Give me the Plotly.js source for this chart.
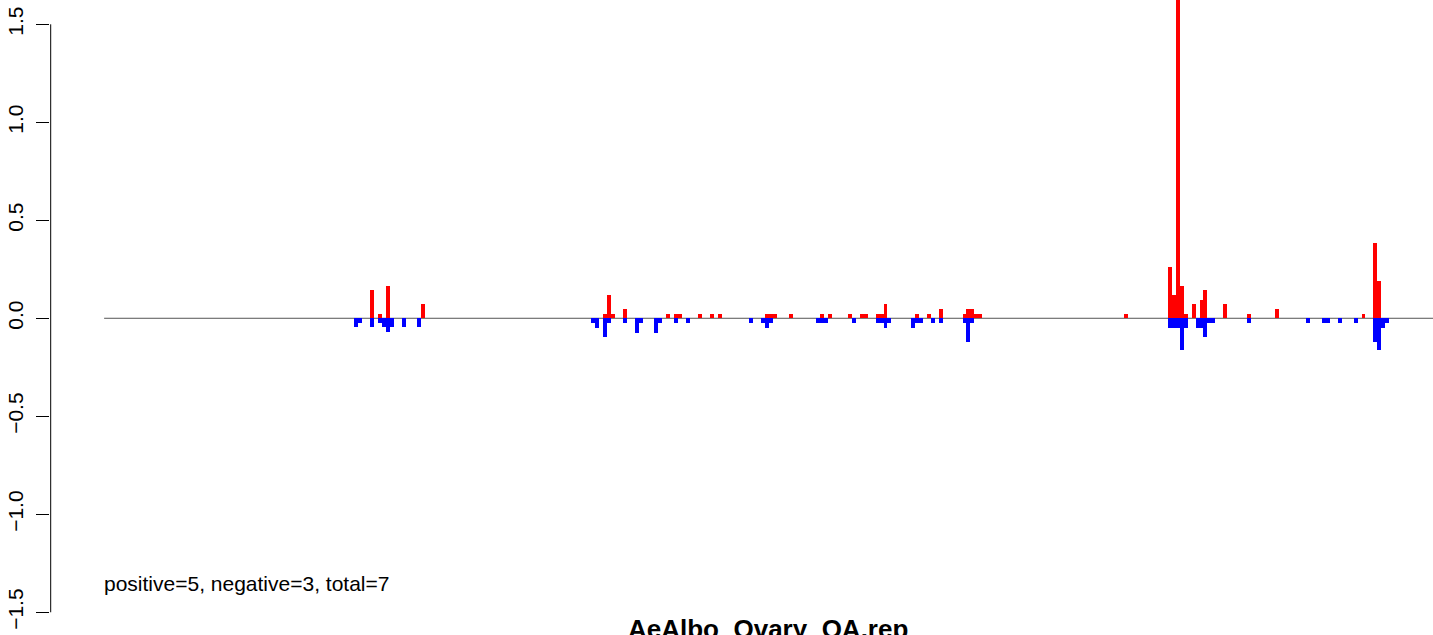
<!DOCTYPE html>
<html>
<head>
<meta charset="utf-8">
<script src="https://cdn.plot.ly/plotly-3.0.1.min.js"></script>
<style>html,body{margin:0;padding:0;background:#fff;}#chart{width:1433px;height:635px;}</style>
</head>
<body>
<div id="chart"></div>
<script>
// bin indices and values
var posBins = [81, 83, 85, 94,
  140, 141, 142, 145, 156, 158, 159, 164, 167, 169,
  181, 182, 183, 187, 195, 197, 202, 205, 206, 209, 210, 211, 219, 222, 225, 231, 232, 233, 234, 235,
  272, 283, 284, 285, 286, 287, 289, 291, 292, 297,
  303, 310, 332, 335, 336];
var posVals = [0.144, 0.022, 0.164, 0.074,
  0.022, 0.118, 0.022, 0.047, 0.022, 0.022, 0.022, 0.022, 0.022, 0.022,
  0.022, 0.022, 0.022, 0.022, 0.022, 0.022, 0.022, 0.022, 0.022, 0.022, 0.022, 0.072, 0.022, 0.022, 0.047, 0.022, 0.047, 0.047, 0.022, 0.022,
  0.022, 0.262, 0.120, 2.0, 0.165, 0.022, 0.073, 0.093, 0.144, 0.073,
  0.022, 0.047, 0.022, 0.384, 0.189];
var negBins = [77, 78, 81, 83, 84, 85, 86, 89, 93,
  137, 138, 140, 141, 145, 148, 149, 153, 154, 158, 161, 177,
  180, 181, 182, 194, 195, 196, 203, 209, 210, 211, 212, 218, 219, 220, 223, 225, 231, 232, 233,
  283, 284, 285, 286, 287, 290, 291, 292, 293, 294,
  303, 318, 322, 323, 326, 330, 335, 336, 337, 338];
var negVals = [-0.046, -0.022, -0.046, -0.022, -0.046, -0.071, -0.046, -0.046, -0.046,
  -0.022, -0.048, -0.093, -0.022, -0.022, -0.073, -0.022, -0.073, -0.022, -0.022, -0.022, -0.022,
  -0.022, -0.047, -0.022, -0.022, -0.022, -0.022, -0.022, -0.022, -0.022, -0.047, -0.022, -0.047, -0.022, -0.022, -0.022, -0.022, -0.022, -0.119, -0.022,
  -0.047, -0.047, -0.047, -0.164, -0.047, -0.047, -0.047, -0.093, -0.022, -0.022,
  -0.024, -0.022, -0.022, -0.022, -0.022, -0.022, -0.119, -0.164, -0.047, -0.022];
var yTicks = [-1.5, -1.0, -0.5, 0.0, 0.5, 1.0, 1.5];
var yTickLabels = ['\u22121.5', '\u22121.0', '\u22120.5', '0.0', '0.5', '1.0', '1.5'];
var titleText = 'AeAlbo_Ovary_OA.rep';
var summaryText = 'positive=5, negative=3, total=7';
var lineStart = 13.2;

var traces = [
  {type: 'bar', x: posBins, y: posVals, width: 1, marker: {color: '#ff0000', line: {width: 0}}, hoverinfo: 'x+y'},
  {type: 'bar', x: negBins, y: negVals, width: 1, marker: {color: '#0000ff', line: {width: 0}}, hoverinfo: 'x+y'}
];

var layout = {
  width: 1433, height: 635,
  margin: {l: 50, r: 0, t: 0, b: 0},
  paper_bgcolor: '#ffffff', plot_bgcolor: '#ffffff',
  showlegend: false,
  barmode: 'overlay',
  bargap: 0,
  font: {family: 'Liberation Sans, Arial, sans-serif', color: '#000'},
  xaxis: {range: [-0.5, 349.6], visible: false, showgrid: false, zeroline: false, fixedrange: true},
  yaxis: {
    range: [-1.616, 1.624], showgrid: false, zeroline: false, showline: false,
    tickmode: 'array', tickvals: yTicks, ticktext: yTickLabels,
    ticks: 'outside', ticklen: 13, tickwidth: 1, tickcolor: '#000',
    tickangle: -90, tickfont: {size: 21, color: '#000'}, ticklabelstandoff: 5,
    fixedrange: true
  },
  shapes: [
    {type: 'line', xref: 'paper', yref: 'y', x0: 0.0005, x1: 0.0005, y0: -1.5, y1: 1.5, line: {color: '#000', width: 1}},
    {type: 'line', xref: 'x', yref: 'y', x0: lineStart, x1: 400, y0: 0, y1: 0, line: {color: '#555555', width: 1}, layer: 'below'}
  ],
  annotations: [
    {text: summaryText, xref: 'x', yref: 'y', x: lineStart - 0.5, y: -1.355, xanchor: 'left', yanchor: 'middle', showarrow: false, font: {size: 21, color: '#000'}},
    {text: '<b>' + titleText + '</b>', xref: 'paper', yref: 'paper', x: 0.5188, y: 0.0095, xanchor: 'center', yanchor: 'middle', showarrow: false, font: {size: 26, color: '#000'}}
  ]
};

Plotly.newPlot('chart', traces, layout, {displayModeBar: false, staticPlot: true});
</script>
</body>
</html>
